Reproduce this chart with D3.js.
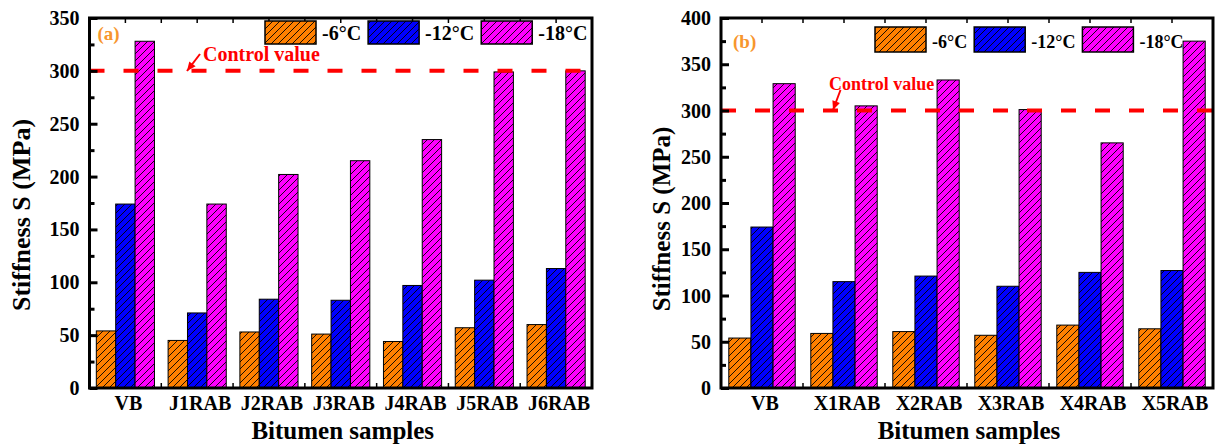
<!DOCTYPE html>
<html>
<head>
<meta charset="utf-8">
<script src="https://cdn.jsdelivr.net/npm/d3@7"></script>
<style>
  html, body { margin: 0; padding: 0; background: #fff; }
</style>
</head>
<body>
<svg id="chart" width="1220" height="445" font-family="'Liberation Serif', 'Times New Roman', Times, 'DejaVu Serif', serif" font-weight="bold"></svg>
<script>
// ---------- data ----------
const seriesNames = ["-6°C", "-12°C", "-18°C"];
const seriesColors = ["#ff8000", "#0000ff", "#ff00ff"];

const categoriesA = ["VB", "J1RAB", "J2RAB", "J3RAB", "J4RAB", "J5RAB", "J6RAB"];
const minus6A  = [54, 45, 53, 51, 44, 57, 60];
const minus12A = [174, 71, 84, 83, 97, 102, 113];
const minus18A = [328, 174, 202, 215, 235, 299, 300];
const yTicksA  = [0, 50, 100, 150, 200, 250, 300, 350];

const categoriesB = ["VB", "X1RAB", "X2RAB", "X3RAB", "X4RAB", "X5RAB"];
const minus6B  = [54, 59, 61, 57, 68, 64];
const minus12B = [174, 115, 121, 110, 125, 127];
const minus18B = [329, 305, 333, 301, 265, 375];
const yTicksB  = [0, 50, 100, 150, 200, 250, 300, 350, 400];

const controlValue = 300;
const controlLabel = "Control value";
const yTitle = "Stiffness S (MPa)";
const xTitle = "Bitumen samples";

// ---------- drawing ----------
const FONT = "'Liberation Serif', 'Times New Roman', Times, 'DejaVu Serif', serif";
const svg = d3.select("#chart");
const defs = svg.append("defs");
seriesColors.forEach((c, i) => {
  const p = defs.append("pattern")
    .attr("id", "hatch" + i)
    .attr("patternUnits", "userSpaceOnUse")
    .attr("width", 7).attr("height", 7);
  p.append("rect").attr("width", 7).attr("height", 7).attr("fill", c);
  p.append("path")
    .attr("d", "M-1,1 L1,-1 M0,7 L7,0 M6,8 L8,6")
    .attr("stroke", "#000").attr("stroke-width", 0.9);
});

function txt(g) {
  return g.append("text").attr("font-family", FONT).attr("font-weight", "bold");
}

function drawPanel(cfg) {
  const g = svg.append("g");
  const x = d3.scaleBand().domain(cfg.categories)
    .range([cfg.left, cfg.right]).paddingInner(0.19).paddingOuter(0.095);
  const xs = d3.scaleBand().domain(d3.range(seriesNames.length))
    .range([0, x.bandwidth()]);
  const y = d3.scaleLinear().domain([0, cfg.yMax]).range([cfg.bottom, cfg.top]);
  const series = [cfg.s6, cfg.s12, cfg.s18];

  // bars
  series.forEach((vals, si) => {
    g.selectAll(null).data(vals).enter().append("rect")
      .attr("x", (d, i) => x(cfg.categories[i]) + xs(si))
      .attr("y", d => y(d))
      .attr("width", xs.bandwidth())
      .attr("height", d => y(0) - y(d))
      .attr("fill", "url(#hatch" + si + ")")
      .attr("stroke", "#000").attr("stroke-width", 1);
  });

  // control line
  g.append("line")
    .attr("x1", cfg.left).attr("x2", cfg.right)
    .attr("y1", y(controlValue)).attr("y2", y(controlValue))
    .attr("stroke", "#ff0000").attr("stroke-width", 4)
    .attr("stroke-dasharray", "15,19");

  // frame
  g.append("rect")
    .attr("x", cfg.left).attr("y", cfg.top)
    .attr("width", cfg.right - cfg.left).attr("height", cfg.bottom - cfg.top)
    .attr("fill", "none").attr("stroke", "#000").attr("stroke-width", 3);

  // y axis (ticks inward)
  const yAxis = d3.axisRight(y).tickValues(cfg.yTicks).tickSize(8).tickFormat("");
  g.append("g").attr("transform", `translate(${cfg.left},0)`).call(yAxis)
    .call(a => a.select(".domain").remove())
    .call(a => a.selectAll("line").attr("stroke-width", 3));
  const minorTicks = cfg.yTicks.slice(1).map((t, i) => (t + cfg.yTicks[i]) / 2);
  g.append("g").attr("transform", `translate(${cfg.left},0)`)
    .call(d3.axisRight(y).tickValues(minorTicks).tickSize(5).tickFormat(""))
    .call(a => a.select(".domain").remove())
    .call(a => a.selectAll("line").attr("stroke-width", 3));
  g.selectAll(null).data(cfg.yTicks).enter().append("text")
    .attr("font-family", FONT).attr("font-weight", "bold")
    .attr("x", cfg.left - 10).attr("y", d => y(d) + 7)
    .attr("text-anchor", "end").attr("font-size", 20).text(d => d);

  // x axis small ticks (top & bottom)
  const boundaries = cfg.categories.map(c => x(c) - x.step() * 0.095).slice(1);
  const centers = cfg.categories.map(c => x(c) + x.bandwidth() / 2);
  const tickXs = boundaries.concat(centers);
  g.selectAll(null).data(tickXs).enter().append("line")
    .attr("x1", d => d).attr("x2", d => d)
    .attr("y1", cfg.top).attr("y2", cfg.top + 5)
    .attr("stroke", "#000").attr("stroke-width", 1.5);
  g.selectAll(null).data(boundaries).enter().append("line")
    .attr("x1", d => d).attr("x2", d => d)
    .attr("y1", cfg.bottom).attr("y2", cfg.bottom - 5)
    .attr("stroke", "#000").attr("stroke-width", 1.5);

  // category labels
  g.selectAll(null).data(cfg.categories).enter().append("text")
    .attr("font-family", FONT).attr("font-weight", "bold")
    .attr("x", d => x(d) + x.bandwidth() / 2 + 3).attr("y", 410)
    .attr("text-anchor", "middle").attr("font-size", 20).text(d => d);

  // axis titles
  txt(g).attr("x", (cfg.left + cfg.right) / 2 + 2).attr("y", 439)
    .attr("text-anchor", "middle").attr("font-size", 25).text(xTitle);
  txt(g).attr("transform", `translate(${cfg.yTitleX},${cfg.yTitleY}) rotate(-90)`)
    .attr("text-anchor", "middle").attr("font-size", cfg.yTitleSize).text(yTitle);

  // panel label
  txt(g).attr("x", cfg.left + cfg.tagDx).attr("y", cfg.tagY)
    .attr("font-size", 19).attr("fill", "#f7962d").text(cfg.tag);

  // control annotation
  txt(g).attr("x", cfg.ctrlX).attr("y", cfg.ctrlY)
    .attr("font-size", cfg.ctrlSize).attr("fill", "#ff0000").text(controlLabel);
  const [ax1, ay1, ax2, ay2] = cfg.arrow;
  g.append("line").attr("x1", ax1).attr("y1", ay1).attr("x2", ax2).attr("y2", ay2)
    .attr("stroke", "#ff0000").attr("stroke-width", 2);
  const ang = Math.atan2(ay2 - ay1, ax2 - ax1);
  const L = 9, W = 4;
  const bx = ax2 - L * Math.cos(ang), by = ay2 - L * Math.sin(ang);
  g.append("path")
    .attr("d", `M${ax2},${ay2} L${bx - W * Math.sin(ang)},${by + W * Math.cos(ang)} L${bx + W * Math.sin(ang)},${by - W * Math.cos(ang)} Z`)
    .attr("fill", "#ff0000");

  // legend
  let lx = cfg.legX;
  seriesNames.forEach((name, si) => {
    g.append("rect")
      .attr("x", lx).attr("y", cfg.legY)
      .attr("width", 51).attr("height", cfg.legH)
      .attr("fill", "url(#hatch" + si + ")")
      .attr("stroke", "#000").attr("stroke-width", 1.5);
    const t = txt(g).attr("x", lx + 57).attr("y", cfg.legTextY)
      .attr("font-size", cfg.legSize).text(name);
    lx = lx + 57 + t.node().getComputedTextLength() + 7;
  });
}

drawPanel({
  categories: categoriesA, s6: minus6A, s12: minus12A, s18: minus18A,
  yTicks: yTicksA, yMax: 350,
  left: 89.5, right: 592, top: 18, bottom: 388,
  yTitleX: 30, yTitleY: 215, yTitleSize: 26,
  tag: "(a)", tagDx: 8, tagY: 40,
  ctrlX: 203, ctrlY: 61, ctrlSize: 20, arrow: [200, 54, 187, 71],
  legX: 265, legY: 21, legH: 23, legTextY: 40, legSize: 20
});

drawPanel({
  categories: categoriesB, s6: minus6B, s12: minus12B, s18: minus18B,
  yTicks: yTicksB, yMax: 400,
  left: 721, right: 1213, top: 18, bottom: 388,
  yTitleX: 670, yTitleY: 219, yTitleSize: 25,
  tag: "(b)", tagDx: 12, tagY: 48,
  ctrlX: 829, ctrlY: 90, ctrlSize: 18, arrow: [840.5, 90, 833, 110],
  legX: 875, legY: 27, legH: 25, legTextY: 48, legSize: 18
});
</script>
</body>
</html>
